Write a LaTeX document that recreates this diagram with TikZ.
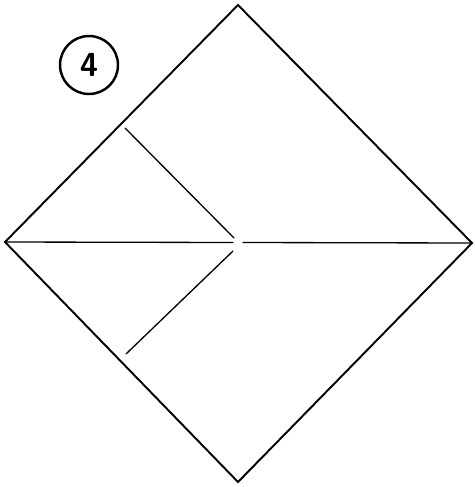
\documentclass[tikz,border=0pt]{standalone}
\usepackage{tikz}
\usetikzlibrary{positioning}

\begin{document}
\begin{tikzpicture}[
    x=0.02cm,y=-0.02cm,
    edge/.style={line width=1.1pt,line join=miter},
    fold/.style={line width=0.75pt,line cap=round},
    stepnum/.style={draw,circle,line width=1.4pt,minimum size=1.16cm,inner sep=0pt,font=\sffamily\bfseries\fontsize{19}{19}\selectfont}
  ]
    \useasboundingbox (0,0) rectangle (475,487);
    % paper square
    \coordinate (t) at (238,5);
    \coordinate (l) at (5,242);
    \coordinate (r) at (472,243);
    \coordinate (b) at (238,482);
    \draw[edge] (t) -- (r) -- (b) -- (l) -- cycle;
    % step number
    \node[stepnum] (n) at (89,65) {4};
    % creases
    \coordinate (ua) at (125,128);
    \coordinate (ub) at (234,238);
    \coordinate (hl) at (233,242.5);
    \coordinate (hr) at (243,242.5);
    \coordinate (la) at (233,251);
    \coordinate (lb) at (126,354);
    \draw[fold] (ua) -- (ub);
    \draw[fold] (l) -- (hl);
    \draw[fold] (hr) -- (r);
    \draw[fold] (la) -- (lb);
  \end{tikzpicture}
\end{document}
